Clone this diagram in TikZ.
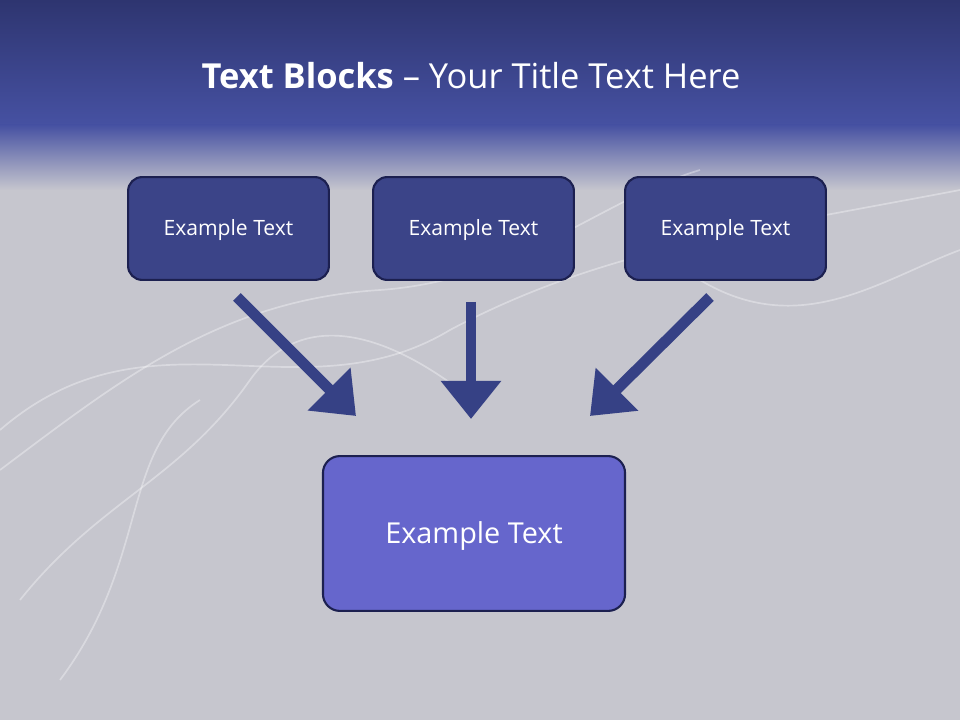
\documentclass[tikz,border=0pt]{standalone}
\usepackage{fontspec}
\setmainfont{Open Sans}
\usetikzlibrary{arrows.meta}
\definecolor{bg}{HTML}{C6C6CE}
\definecolor{bandtop}{HTML}{2E3570}
\definecolor{bandbot}{HTML}{4651A2}
\definecolor{boxfill}{HTML}{3B4488}
\definecolor{boxline}{HTML}{1C2050}
\definecolor{bigfill}{HTML}{6666CC}
\definecolor{arr}{HTML}{364185}
\tikzset{
 px/.style={x=0.025cm,y=-0.025cm},
 topbox/.style={draw=boxline,line width=1.5pt,fill=boxfill,rounded corners=10pt,minimum width=5.02cm,minimum height=2.57cm,text=white,font=\fontsize{13}{16}\selectfont},
 bigbox/.style={draw=boxline,line width=1.5pt,fill=bigfill,rounded corners=12pt,minimum width=7.55cm,minimum height=3.87cm,text=white,font=\fontsize{20}{24}\selectfont},
 blockarrow/.style={draw=arr,line width=0.27cm,-{Triangle[length=0.95cm,width=1.45cm]}},
 wisp/.style={draw=white,opacity=0.35,line width=1.2pt}
}
\begin{document}
\begin{tikzpicture}[px]
\useasboundingbox (0,0) rectangle (960,720);
\fill[bg] (0,0) rectangle (960,720);
\shade[top color=bandtop,bottom color=bandbot] (0,0) rectangle (960,125);
\shade[top color=bandbot,bottom color=bg] (0,125) rectangle (960,190);
\draw[wisp] (0,430) .. controls (150,300) and (300,420) .. (450,330) .. controls (600,250) and (750,230) .. (960,190);
\draw[wisp] (0,470) .. controls (120,380) and (220,300) .. (380,290) .. controls (520,280) and (600,200) .. (700,170);
\draw[wisp] (20,600) .. controls (100,500) and (180,480) .. (250,380) .. controls (300,310) and (380,330) .. (460,390);
\draw[wisp] (700,280) .. controls (800,340) and (880,280) .. (960,250);
\draw[wisp] (60,680) .. controls (150,560) and (120,450) .. (200,400);
\node[text=white,font=\fontsize{24.5}{28}\selectfont] (title) at (471,76) {\textbf{Text Blocks} – Your Title Text Here};
\node[topbox] (b1) at (228.5,228.5) {};
\node[topbox] (b2) at (473.5,228.5) {};
\node[topbox] (b3) at (725.5,228.5) {};
\node[bigbox] (b4) at (474,533.5) {};
\node[text=white,font=\fontsize{15}{18}\selectfont] (t1) at (228.5,230) {Example Text};
\node[text=white,font=\fontsize{15}{18}\selectfont] (t2) at (473.5,230) {Example Text};
\node[text=white,font=\fontsize{15}{18}\selectfont] (t3) at (725.5,230) {Example Text};
\node[text=white,font=\fontsize{20.5}{24}\selectfont] (t4) at (474,536) {Example Text};
\coordinate (a1s) at (237,297); \coordinate (a1e) at (356,416);
\coordinate (a2s) at (471,302); \coordinate (a2e) at (471,419);
\coordinate (a3s) at (710,297); \coordinate (a3e) at (590,416);
\draw[blockarrow] (a1s) -- (a1e);
\draw[blockarrow] (a2s) -- (a2e);
\draw[blockarrow] (a3s) -- (a3e);
\end{tikzpicture}
\end{document}
